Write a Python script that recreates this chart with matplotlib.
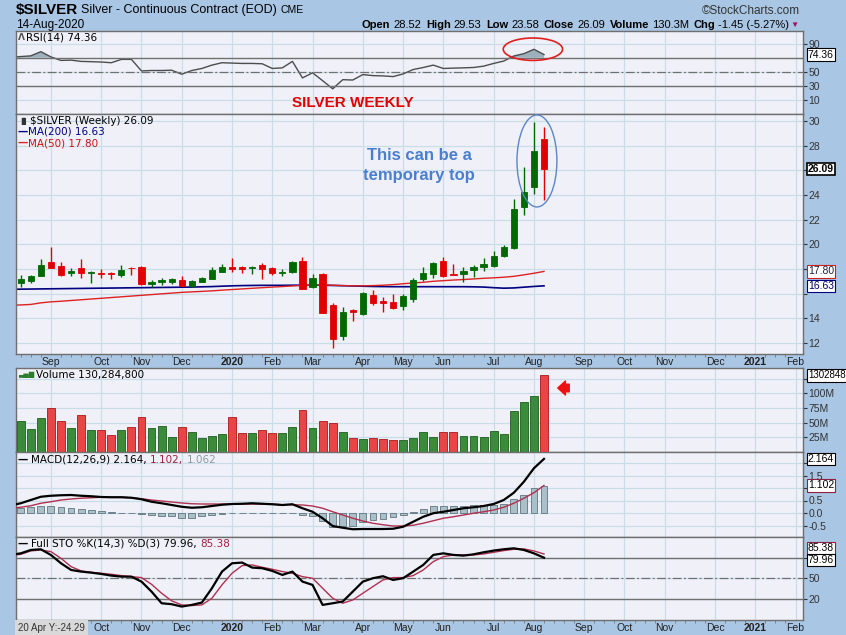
import numpy as np
import pandas as pd
import matplotlib
matplotlib.use("Agg")
import matplotlib.pyplot as plt
from matplotlib.patches import Ellipse

# ---------------- data ----------------
first_week = "2019-08-12"  # Monday of the first weekly bar
opens = [16.89, 17.05, 17.46, 18.54, 18.24, 17.70, 18.05, 17.65, 17.70, 17.67,
         17.51, 18.11, 18.19, 16.78, 16.94, 16.94, 17.11, 16.65, 16.97, 17.19,
         17.78, 18.19, 18.19, 18.08, 18.32, 18.11, 17.70, 17.73, 18.65, 16.50,
         17.57, 15.08, 12.56, 14.70, 14.38, 15.89, 15.37, 15.32, 15.00, 15.53,
         17.18, 17.59, 18.64, 17.59, 17.56, 17.91, 18.18, 18.24, 19.05, 19.67,
         23.00, 24.67, 28.52]
highs = [17.51, 17.51, 18.78, 19.81, 18.54, 18.05, 18.78, 17.86, 17.97, 17.78,
         18.32, 18.13, 18.24, 17.11, 17.24, 17.24, 17.43, 17.11, 17.38, 18.19,
         18.38, 18.92, 18.22, 18.22, 18.46, 18.19, 17.97, 18.67, 19.00, 17.57,
         17.65, 15.24, 14.94, 14.78, 16.14, 16.30, 15.73, 16.00, 15.96, 17.24,
         18.18, 18.59, 19.00, 18.40, 18.13, 18.32, 18.86, 19.48, 19.94, 23.64,
         26.29, 29.92, 29.53]
lows = [16.51, 16.84, 17.40, 18.05, 17.46, 17.46, 17.30, 16.89, 17.30, 17.16,
        17.38, 17.51, 16.70, 16.57, 16.70, 16.78, 16.62, 16.51, 16.92, 17.17,
        17.73, 17.78, 17.65, 17.57, 17.19, 17.51, 17.43, 17.65, 16.35, 16.43,
        14.40, 11.60, 12.24, 13.80, 14.27, 15.08, 14.54, 14.76, 14.68, 15.35,
        17.05, 17.24, 17.37, 17.48, 16.97, 17.37, 17.86, 18.18, 19.00, 19.59,
        22.37, 24.08, 23.58]
closes = [17.16, 17.43, 18.32, 18.11, 17.51, 17.86, 17.65, 17.73, 17.59, 17.62,
          17.92, 18.05, 16.78, 16.97, 17.11, 17.16, 16.65, 17.05, 17.30, 17.92,
          18.19, 18.00, 18.03, 18.19, 18.00, 17.65, 17.78, 18.59, 16.40, 17.24,
          14.45, 12.35, 14.51, 14.50, 16.07, 15.27, 15.24, 14.80, 15.80, 17.10,
          17.70, 18.51, 17.45, 17.50, 17.86, 18.13, 18.37, 19.08, 19.81, 22.86,
          24.27, 27.56, 26.09]
volume_m = [53.6, 39.6, 58.4, 75.0, 53.6, 41.3, 62.3, 36.8, 38.0, 29.2,
            38.0, 42.9, 60.0, 41.3, 44.8, 26.3, 42.9, 34.6, 24.4, 27.8,
            31.2, 60.0, 32.8, 31.8, 38.0, 32.8, 31.8, 41.9, 71.9, 41.3,
            53.3, 49.7, 34.6, 24.4, 22.7, 24.4, 22.7, 19.8, 20.9, 24.4,
            34.6, 26.0, 34.6, 34.6, 27.8, 27.8, 26.0, 36.2, 31.2, 70.1,
            85.5, 94.5, 130.2848]
# indicator series: first value belongs to the week before the first bar
ma200 = [16.35, 16.36, 16.37, 16.38, 16.39, 16.40, 16.41, 16.42, 16.43, 16.44, 16.45,
         16.46, 16.47, 16.48, 16.49, 16.50, 16.51, 16.52, 16.53, 16.55, 16.57,
         16.60, 16.63, 16.65, 16.66, 16.67, 16.67, 16.67, 16.68, 16.68, 16.68,
         16.68, 16.66, 16.64, 16.62, 16.60, 16.58, 16.57, 16.56, 16.56, 16.56,
         16.56, 16.56, 16.56, 16.56, 16.56, 16.55, 16.53, 16.48, 16.44, 16.46,
         16.52, 16.58, 16.63]
ma50 = [15.05, 15.08, 15.12, 15.25, 15.33, 15.38, 15.44, 15.50, 15.56, 15.62, 15.68,
        15.74, 15.80, 15.86, 15.92, 15.98, 16.04, 16.10, 16.14, 16.18, 16.22,
        16.28, 16.33, 16.38, 16.43, 16.48, 16.53, 16.57, 16.62, 16.66, 16.69,
        16.70, 16.68, 16.65, 16.63, 16.63, 16.65, 16.68, 16.73, 16.80, 16.86,
        16.92, 17.00, 17.05, 17.10, 17.14, 17.19, 17.24, 17.28, 17.33, 17.40,
        17.52, 17.65, 17.80]
rsi14 = [70.5, 71.5, 72.5, 78.5, 71.0, 66.0, 66.4, 64.6, 64.2, 63.7, 62.7,
         67.5, 67.5, 51.0, 51.6, 51.6, 52.0, 46.3, 51.6, 54.5, 59.3,
         62.7, 62.2, 61.7, 61.7, 61.2, 54.5, 55.4, 64.6, 41.0, 48.3,
         37.1, 25.5, 38.5, 38.0, 45.8, 44.3, 43.9, 42.9, 46.7, 53.0,
         55.9, 59.3, 54.5, 55.0, 55.4, 55.9, 57.8, 61.7, 65.1, 72.3,
         75.6, 81.9, 74.36]
macd_line = [0.30, 0.39, 0.52, 0.65, 0.69, 0.71, 0.72, 0.69, 0.67, 0.64, 0.63,
             0.63, 0.61, 0.55, 0.45, 0.39, 0.32, 0.25, 0.21, 0.23, 0.28,
             0.33, 0.36, 0.37, 0.39, 0.37, 0.35, 0.32, 0.35, 0.19, 0.05,
             -0.21, -0.52, -0.59, -0.65, -0.64, -0.64, -0.64, -0.63, -0.55, -0.35,
             -0.15, -0.01, 0.05, 0.12, 0.19, 0.23, 0.28, 0.36, 0.52, 0.81,
             1.25, 1.79, 2.164]
macd_signal = [0.19, 0.23, 0.29, 0.39, 0.45, 0.52, 0.56, 0.59, 0.61, 0.63, 0.63,
               0.63, 0.61, 0.57, 0.52, 0.48, 0.44, 0.40, 0.37, 0.36, 0.36,
               0.36, 0.36, 0.36, 0.36, 0.36, 0.35, 0.33, 0.33, 0.32, 0.28,
               0.19, 0.05, -0.08, -0.21, -0.32, -0.41, -0.47, -0.52, -0.52, -0.49,
               -0.41, -0.31, -0.21, -0.15, -0.08, -0.01, 0.05, 0.12, 0.23, 0.39,
               0.59, 0.81, 1.102]
macd_hist = [0.20, 0.24, 0.29, 0.27, 0.24, 0.19, 0.16, 0.11, 0.07, 0.03,
             0.01, 0.00, -0.05, -0.09, -0.11, -0.13, -0.20, -0.19, -0.13, -0.08,
             -0.03, 0.00, 0.01, 0.01, 0.01, 0.00, -0.01, 0.00, -0.07, -0.13,
             -0.33, -0.57, -0.53, -0.51, -0.37, -0.27, -0.23, -0.17, -0.09, 0.05,
             0.16, 0.29, 0.29, 0.27, 0.29, 0.31, 0.33, 0.33, 0.37, 0.56,
             0.73, 0.99, 1.062]
sto_k = [84.0, 86.3, 91.2, 92.2, 83.9, 71.9, 62.2, 59.8, 58.3, 56.4, 54.0,
         52.5, 52.5, 45.3, 30.8, 13.9, 12.5, 9.1, 11.5, 14.9, 35.7,
         59.8, 71.9, 72.9, 65.6, 64.7, 60.8, 55.0, 59.8, 45.3, 40.5,
         11.5, 13.9, 16.4, 30.8, 45.3, 50.2, 53.1, 47.7, 50.2, 59.8,
         69.5, 84.0, 86.3, 84.0, 83.0, 84.9, 87.8, 90.3, 92.2, 93.6,
         91.2, 86.3, 79.96]
sto_d = [83.0, 84.9, 89.8, 91.2, 88.8, 79.1, 67.0, 60.8, 58.8, 57.4, 55.9,
         54.0, 52.5, 51.1, 41.4, 28.4, 17.4, 11.5, 10.6, 11.5, 21.2,
         40.5, 57.4, 68.5, 69.5, 66.1, 63.2, 59.8, 57.4, 52.5, 50.2,
         35.7, 21.2, 13.9, 18.7, 28.4, 38.1, 47.7, 51.1, 51.1, 54.0,
         62.2, 74.3, 81.5, 84.0, 84.0, 84.0, 85.4, 87.8, 90.3, 92.2,
         92.7, 89.8, 85.38]

# ---------------- figure ----------------
W, H = 846, 635
fig = plt.figure(figsize=(W / 100, H / 100), dpi=100)
BG = "#a9c6e4"
fig.patch.set_facecolor(BG)
NARROW = ["Liberation Sans Narrow", "Liberation Sans", "DejaVu Sans"]
LEG = ["DejaVu Sans"]
GREEN, RED = "#006a00", "#e00000"


def rect(top, bot, left=16, right=803):
    return [left / W, 1 - bot / H, (right - left) / W, (bot - top) / H]


n = len(closes)
xi = np.arange(n)
xl = np.arange(-1, n)
o, h, l, c = map(np.array, (opens, highs, lows, closes))
up = c >= o
weeks = pd.date_range(first_week, periods=80, freq="W-MON")
tick_idx = [i for i in range(1, len(weeks)) if weeks[i].month != weeks[i - 1].month]
tick_lab = [str(weeks[i].year) if weeks[i].month == 1 else weeks[i].strftime("%b")
            for i in tick_idx]
XMIN, XMAX = -0.47, 77.74


def style(ax, ylim, yticks, ylabels):
    ax.set_facecolor("#eff0f8")
    ax.set_xlim(XMIN, XMAX)
    ax.set_ylim(*ylim)
    ax.set_xticks(tick_idx)
    ax.set_xticklabels([])
    ax.tick_params(axis="x", length=0)
    ax.yaxis.tick_right()
    ax.set_yticks(yticks)
    ax.set_yticklabels(ylabels, family=NARROW)
    ax.tick_params(axis="y", length=3, width=0.8, pad=1, labelsize=7.5,
                   colors="#333333")
    ax.grid(True, color="#c9dde9", lw=0.8)
    ax.set_axisbelow(True)
    for s in ax.spines.values():
        s.set_color("#6f6f6f")
        s.set_linewidth(1)


def month_labels(ax, hide_first=False):
    labs = list(tick_lab)
    if hide_first:
        labs[0] = ""
    ax.set_xticklabels(labs, family=NARROW, fontsize=7.5, color="#222222")
    ax.tick_params(axis="x", labelbottom=True, pad=2)
    for t in ax.get_xticklabels():
        if t.get_text().isdigit():
            t.set_fontweight("bold")
    ax.set_xticks(np.arange(0, 78), minor=True)
    ax.tick_params(axis="x", which="minor", length=2, color="#777777")


def vbox(ax, val, text, edge="black", tc="black", bold=False, lw=0.8, dy=0,
         size=7.5):
    ax.annotate(text, xy=(1, val), xycoords=ax.get_yaxis_transform(),
                xytext=(3.5, dy), textcoords="offset points", ha="left", va="center",
                fontsize=size, family=NARROW, color=tc,
                fontweight="bold" if bold else "normal", annotation_clip=False,
                bbox=dict(boxstyle="square,pad=0.12", fc="white", ec=edge, lw=lw),
                zorder=10)


# ---- RSI panel ----
ax_r = fig.add_axes(rect(31, 114))
style(ax_r, (-10.5, 108), [10, 30, 50, 90], ["10", "30", "50", "90"])
rs = np.array(rsi14)
ax_r.fill_between(xl, rs, 70, where=rs > 70, interpolate=True, color="#9db0bd", lw=0)
ax_r.fill_between(xl, rs, 30, where=rs < 30, interpolate=True, color="#9db0bd", lw=0)
ax_r.plot(xl, rs, color="#4d4d4d", lw=1)
for lv in (70, 30):
    ax_r.axhline(lv, color="#707070", lw=1)
ax_r.axhline(50, color="#707070", lw=0.9, ls=(0, (7, 2, 1.5, 2)))
vbox(ax_r, rs[-1], f"{rs[-1]:.2f}")
ax_r.add_patch(Ellipse((50.9, 82), 5.9, 32, fill=False, ec="#e02020", lw=1.2,
                       zorder=6))

# ---- price panel ----
ax_p = fig.add_axes(rect(114, 354))
pt = list(range(12, 31, 2))
style(ax_p, (11.1, 30.57), pt,
      ["" if v in (16, 18, 26) else str(v) for v in pt])
month_labels(ax_p)
cols = np.where(up, GREEN, RED)
ax_p.vlines(xi, l, h, colors=cols, lw=1, zorder=3)
ax_p.bar(xi, np.abs(c - o), bottom=np.minimum(o, c), width=0.62, color=cols,
         edgecolor=cols, lw=0.6, zorder=4)
ax_p.plot(xl, ma200, color="#000080", lw=1.2, zorder=2)
ax_p.plot(xl, ma50, color="#dd2222", lw=1.0, zorder=2)
vbox(ax_p, c[-1], f"{c[-1]:.2f}", bold=True, lw=1.2)
vbox(ax_p, ma50[-1], f"{ma50[-1]:.2f}", edge="#cc2020", tc="#202040")
vbox(ax_p, ma200[-1], f"{ma200[-1]:.2f}", edge="#000080", tc="#000060")
ax_p.add_patch(Ellipse((51.3, 26.76), 3.97, 7.46, fill=False, ec="#5b87c5",
                       lw=1.0, zorder=6))
ax_p.text(0.512, 0.785, "This can be a\ntemporary top", transform=ax_p.transAxes,
          ha="center", va="center", fontsize=12, fontweight="bold",
          color="#4a7fd0", family=["Liberation Sans", "DejaVu Sans"],
          linespacing=1.35, zorder=7)

# ---- volume panel ----
ax_v = fig.add_axes(rect(368, 452))
style(ax_v, (0, 143), [25, 50, 75, 100, 125], ["25M", "50M", "75M", "100M", ""])
vf = np.where(up, "#3a8c3a", "#e84646")
ve = np.where(up, "#1e5e1e", "#a81818")
ax_v.bar(xi, volume_m, width=0.78, color=vf, edgecolor=ve, lw=0.6, zorder=3)
vbox(ax_v, volume_m[-1], f"{volume_m[-1] * 1e6:.0f}"[:7], size=7)
ax_v.annotate("", xy=(555, H - 388), xycoords="figure pixels",
              xytext=(572, H - 388), textcoords="figure pixels",
              arrowprops=dict(arrowstyle="simple,head_length=0.55,head_width=1.0,tail_width=0.55",
                              fc="#ee1111", ec="#ee1111"))

# ---- MACD panel ----
ax_m = fig.add_axes(rect(452, 537))
mt = [-0.5, 0.0, 0.5, 1.0, 1.5, 2.0]
style(ax_m, (-0.96, 2.44), mt, ["-0.5", "0.0", "0.5", "", "1.5", ""])
ax_m.bar(xi, macd_hist, width=0.68, color="#aabfc8", edgecolor="#60767f",
         lw=0.6, zorder=2)
ax_m.plot(xl, macd_signal, color="#b03050", lw=1.0, zorder=3)
ax_m.plot(xl, macd_line, color="black", lw=1.6, zorder=4)
vbox(ax_m, macd_line[-1], f"{macd_line[-1]:.3f}")
vbox(ax_m, macd_signal[-1], f"{macd_signal[-1]:.3f}", edge="#902040")

# ---- STO panel ----
ax_s = fig.add_axes(rect(537, 620))
style(ax_s, (-10.4, 110), [20, 50, 80], ["20", "50", ""])
month_labels(ax_s, hide_first=True)
for lv in (80, 20):
    ax_s.axhline(lv, color="#707070", lw=1)
ax_s.axhline(50, color="#707070", lw=0.9, ls=(0, (7, 2, 1.5, 2)))
ax_s.plot(xl, sto_d, color="#b03050", lw=1.0, zorder=3)
ax_s.plot(xl, sto_k, color="black", lw=1.6, zorder=4)
vbox(ax_s, sto_d[-1], f"{sto_d[-1]:.2f}", edge="#902040", dy=4)
vbox(ax_s, sto_k[-1], f"{sto_k[-1]:.2f}", dy=-1.5)

# overlay axes for free texts (drawn last)
ax_o = fig.add_axes([0, 0, 1, 1])
ax_o.set_xlim(0, W)
ax_o.set_ylim(H, 0)
ax_o.axis("off")
ax_o.patch.set_alpha(0)

ax_o.text(18, 628, "20 Apr Y:-24.29", fontsize=7, family=NARROW,
          color="#333333", va="center", ha="left",
          bbox=dict(boxstyle="square,pad=0.3", fc="#d9d9d9", ec="none"))


# ---------------- texts ----------------
def chain(x_px, y_px, parts, size, family):
    t = None
    for s, col, wt, gap, *rest in parts:
        sz = rest[0] if rest else size
        if t is None:
            t = ax_o.text(x_px, y_px, s, color=col, fontweight=wt,
                          fontsize=sz, family=family, ha="left", va="center")
        else:
            t = ax_o.annotate(s, xy=(1, 0.5), xycoords=t, xytext=(gap, 0),
                              textcoords="offset points", ha="left", va="center",
                              color=col, fontweight=wt, fontsize=sz, family=family,
                              annotation_clip=False)
    return t


chain(16, 10, [("$SILVER", "black", "bold", 0, 11),
               ("Silver - Continuous Contract (EOD)", "black", "normal", 2),
               ("CME", "black", "normal", 3, 7.5)], 9, NARROW)
ax_o.text(16, 25, "14-Aug-2020", fontsize=8.5, family=NARROW, va="center")
ax_o.text(800, 11, "\u00a9StockCharts.com", fontsize=8.5, family=NARROW,
          ha="right", va="center", color="#333333")
chain(362, 25, [("Open", "black", "bold", 0), ("28.52", "black", "normal", 2),
                ("High", "black", "bold", 3.5), ("29.53", "black", "normal", 2),
                ("Low", "black", "bold", 3.5), ("23.58", "black", "normal", 2),
                ("Close", "black", "bold", 3.5), ("26.09", "black", "normal", 2),
                ("Volume", "black", "bold", 3.5), ("130.3M", "black", "normal", 2),
                ("Chg", "black", "bold", 3.5), ("-1.45 (-5.27%)", "black", "normal", 2),
                ("\u25bc", "#a01060", "normal", 1, 6)], 8, NARROW)

ax_o.text(353, 103, "SILVER WEEKLY", fontsize=11, fontweight="bold",
          color="#e00000", family=["Liberation Sans", "DejaVu Sans"],
          ha="center", va="center")

# panel legends
chain(18, 38, [("\u039b", "#555555", "bold", 0, 6.5),
               ("RSI(14) 74.36", "black", "normal", 1)], 7.5, LEG)
chain(18, 121, [("\u2590\u258c", "#333333", "normal", 0, 5),
                ("$SILVER (Weekly) 26.09", "black", "normal", 1)], 7.5, LEG)
chain(18, 132, [("\u2014", "#000080", "bold", 0),
                ("MA(200) 16.63", "#000080", "normal", 0)], 7.5, LEG)
chain(18, 143, [("\u2014", "#dd2222", "bold", 0),
                ("MA(50) 17.80", "#cc1111", "normal", 0)], 7.5, LEG)
chain(18, 375, [("\u2583\u2585\u2587", "#2e7d2e", "normal", 0, 5),
                ("Volume 130,284,800", "black", "normal", 1)], 7.5, LEG)
chain(18, 460, [("\u2014", "black", "bold", 0),
                ("MACD(12,26,9) 2.164,", "black", "normal", 2),
                ("1.102,", "#a02040", "normal", 2.5),
                ("1.062", "#8c9aa2", "normal", 2.5)], 7.5, LEG)
chain(18, 544, [("\u2014", "black", "bold", 0),
                ("Full STO %K(14,3) %D(3) 79.96,", "black", "normal", 2),
                ("85.38", "#a02040", "normal", 2.5)], 7.5, LEG)

fig.savefig("out.png", dpi=100, facecolor=fig.get_facecolor())
